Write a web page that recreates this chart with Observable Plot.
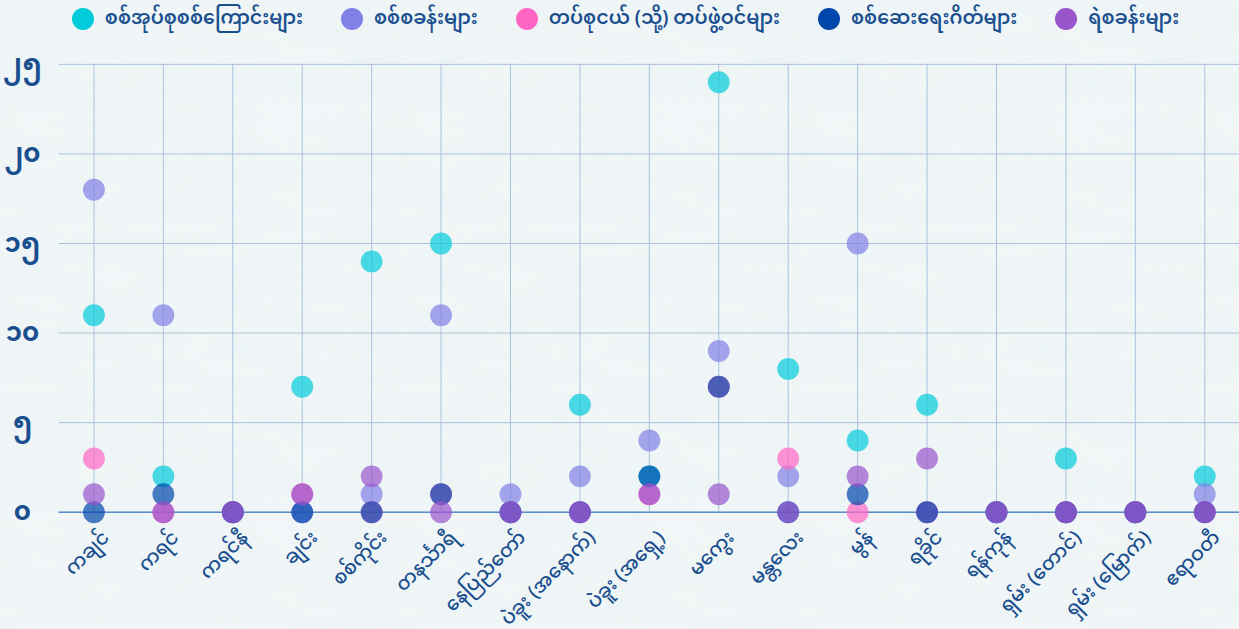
<!DOCTYPE html>
<html>
<head>
<meta charset="utf-8">
<script src="https://cdn.jsdelivr.net/npm/d3@7"></script>
<script src="https://cdn.jsdelivr.net/npm/@observablehq/plot@0.6"></script>
<style>
  html, body { margin: 0; padding: 0; width: 1239px; height: 629px; overflow: hidden;
    background-color: #f2f7f8; font-family: "Noto Sans Myanmar", "Padauk", "Noto Sans", sans-serif; }
  body { background-image: url("data:image/svg+xml;utf8,<svg xmlns='http://www.w3.org/2000/svg' width='400' height='400'><filter id='n'><feTurbulence type='fractalNoise' baseFrequency='0.012 0.05' numOctaves='4' seed='3'/><feColorMatrix values='0 0 0 0 0.6  0 0 0 0 0.72  0 0 0 0 0.76  0 0 0 0.15 0'/></filter><rect width='400' height='400' filter='url(%23n)'/></svg>"); }
  #legend { height: 38px; display: flex; justify-content: center; align-items: center; gap: 38px;
    padding-left: 12px; color: #1a4f8f; font-size: 19px; font-weight: 600; }
  .item { display: flex; align-items: center; gap: 11px; }
  .sw { width: 22px; height: 22px; border-radius: 50%; display: inline-block; }
  #chart svg { display: block; overflow: visible; }
</style>
</head>
<body>
<div id="legend"></div>
<div id="chart"></div>
<script>
const regions = ["ကချင်","ကရင်","ကရင်နီ","ချင်း","စစ်ကိုင်း","တနင်္သာရီ","နေပြည်တော်","ပဲခူး (အနောက်)","ပဲခူး (အရှေ့)","မကွေး","မန္တလေး","မွန်","ရခိုင်","ရန်ကုန်","ရှမ်း (တောင်)","ရှမ်း (မြောက်)","ဧရာဝတီ"];
const seriesNames = ["စစ်အုပ်စုစစ်ကြောင်းများ","စစ်စခန်းများ","တပ်စုငယ် (သို့) တပ်ဖွဲ့ဝင်များ","စစ်ဆေးရေးဂိတ်များ","ရဲစခန်းများ"];
const seriesColors = ["#00ccdc","#8080e6","#ff66c4","#0047ab","#9955cc"];
const columns = [11,2,0,7,14,15,0,6,2,24,8,4,6,0,3,0,2];
const camps = [18,11,0,0,1,11,1,2,4,9,2,15,0,0,0,0,1];
const platoons = [3,0,0,1,0,1,0,0,1,7,3,0,0,0,0,0,0];
const checkpoints = [0,1,0,0,0,1,0,0,2,7,0,1,0,0,0,0,0];
const police = [1,0,0,1,2,0,0,0,1,1,0,2,3,0,0,0,0];
const yTicks = [0,5,10,15,20,25];

const seriesValues = [columns, camps, platoons, checkpoints, police];
const data = [];
seriesValues.forEach((vals, si) => vals.forEach((v, i) => data.push({region: regions[i], series: seriesNames[si], value: v})));

const mm = d => String(d).replace(/\d/g, c => "၀၁၂၃၄၅၆၇၈၉"[+c]);
const textColor = "#1a4f8f";

// legend
const lg = document.getElementById("legend");
seriesNames.forEach((n, i) => {
  const it = document.createElement("div"); it.className = "item";
  const sw = document.createElement("span"); sw.className = "sw"; sw.style.background = seriesColors[i];
  const tx = document.createElement("span"); tx.textContent = n;
  it.appendChild(sw); it.appendChild(tx); lg.appendChild(it);
});

const chart = Plot.plot({
  width: 1245,
  height: 591,
  marginLeft: 59,
  marginRight: 0,
  marginTop: 26,
  marginBottom: 115,
  style: {background: "transparent", fontFamily: "'Noto Sans Myanmar', 'Padauk', sans-serif"},
  x: {type: "point", domain: regions, padding: 0.5, round: false, axis: null},
  y: {domain: [0, 25], axis: null},
  color: {domain: seriesNames, range: seriesColors},
  marks: [
    Plot.gridX(regions, {stroke: "#a9c2dc", strokeOpacity: 1, strokeWidth: 1}),
    Plot.gridY(yTicks, {stroke: "#a9c2dc", strokeOpacity: 1, strokeWidth: 1}),
    Plot.ruleY([0], {stroke: "#5b8bcb", strokeWidth: 1.5}),
    Plot.dot(data, {x: "region", y: "value", fill: "series", r: 11, fillOpacity: 0.7, stroke: null}),
    Plot.text(yTicks, {y: d => d, text: d => mm(d), frameAnchor: "left", dx: -37, textAnchor: "middle",
      fontSize: 26, fontWeight: "bold", fill: textColor}),
    Plot.text(regions, {x: d => d, y: () => 0, text: d => d, rotate: -45, textAnchor: "end", lineAnchor: "middle",
      dx: 12, dy: 22, fontSize: 19.5, fontWeight: 500, fill: textColor})
  ]
});
document.getElementById("chart").appendChild(chart);
</script>
</body>
</html>
